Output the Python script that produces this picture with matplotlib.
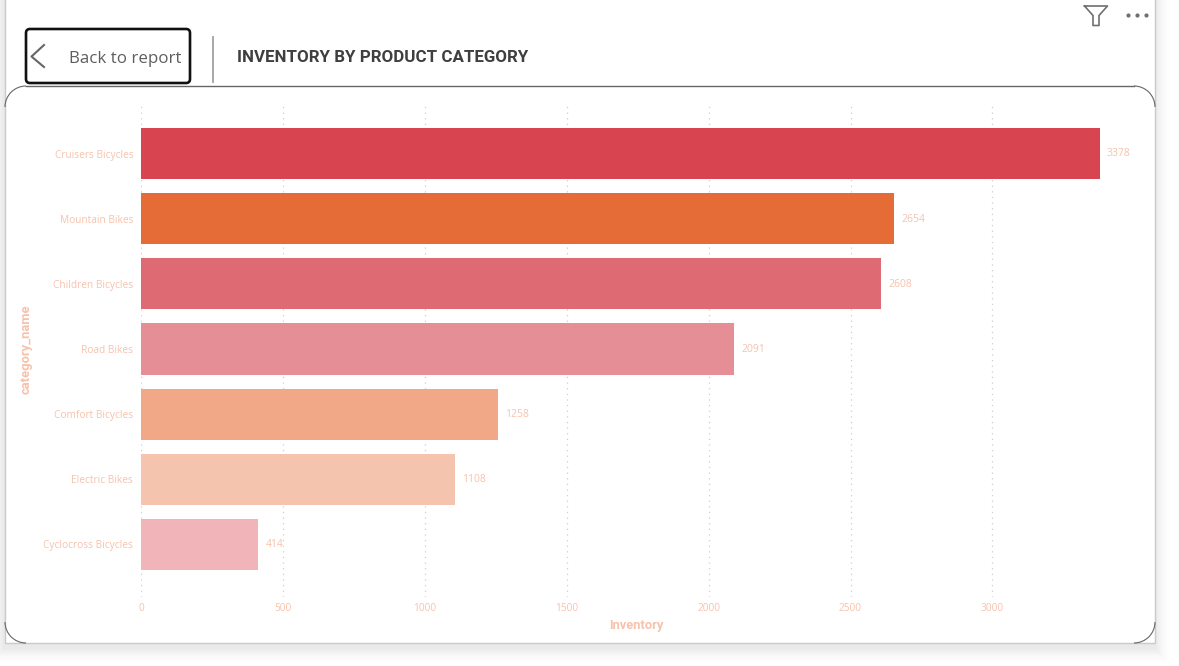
# Inventory by product category, report page recreated
import matplotlib
matplotlib.use("Agg")
import matplotlib.pyplot as plt
from matplotlib.patches import FancyBboxPatch, Arc, Rectangle

W, H = 1179, 666

categories = ["Cruisers Bicycles", "Mountain Bikes", "Children Bicycles", "Road Bikes",
              "Comfort Bicycles", "Electric Bikes", "Cyclocross Bicycles"]
inventory = [3378, 2654, 2608, 2091, 1258, 1108, 414]
bar_colors = ["#D84550", "#E66C37", "#DE6A73", "#E68E96", "#F1A886", "#F4C4AE", "#F0B4B9"]
x_ticks = [0, 500, 1000, 1500, 2000, 2500, 3000]

TEXT_COL = "#F7C2AC"
FONT = "Open Sans"


def px_axes(fig):
    # overlay in pixel coordinates for the page furniture
    ax = fig.add_axes([0, 0, 1, 1], zorder=0)
    ax.set_xlim(0, W)
    ax.set_ylim(H, 0)
    ax.axis("off")
    return ax


def draw_page(bg):
    # soft shadow: nested rectangles from the outside in
    n = 18
    for i in range(n, 0, -1):
        g = 255 - 24 * (1 - i / n) ** 2
        c = (g / 255, g / 255, g / 255)
        bg.add_patch(Rectangle((4 - i, -5), 1151 + 2 * i, 648 + i + 5, fc=c, ec="none", zorder=1))
    bg.add_patch(Rectangle((4.5, -5), 1150.5, 648, fc="white", ec="none", zorder=2))
    bg.plot([4.5, 4.5, 1155, 1155], [0, 643, 643, 0], color="#CACACA", lw=1.0, zorder=3)

    # card outline with rounded corners
    line = "#666666"
    r = 21
    l, t, rt, b = 5, 86, 1155, 643
    bg.plot([l + r, rt - r], [t, t], color=line, lw=1.0, zorder=4)
    for cx, cy, start in [(l + r, t + r, 180), (rt - r, t + r, 270),
                          (l + r, b - r, 90), (rt - r, b - r, 0)]:
        bg.add_patch(Arc((cx, cy), 2 * r, 2 * r, angle=0, theta1=start, theta2=start + 90,
                         color=line, lw=0.8, zorder=4))


def draw_header(bg):
    bg.add_patch(FancyBboxPatch((29, 32), 158, 48, boxstyle="round,pad=3,rounding_size=4",
                                fc="white", ec="#111111", lw=1.9, zorder=5))
    bg.plot([44, 31.5, 44], [45, 56.5, 67], color="#666666", lw=1.5, zorder=6)
    bg.text(69, 58.6, "Back to report", family=FONT, fontsize=12.2, color="#605E5C",
            va="center", ha="left", zorder=6)
    bg.plot([213, 213], [37, 81.5], color="#A0A0A0", lw=1.3, zorder=6)
    bg.text(237, 57, "INVENTORY BY PRODUCT CATEGORY", family="Roboto", weight="bold",
            fontsize=12.2, color="#3F3F3F", va="center", ha="left", zorder=6)

    # filter icon and the three dots
    bg.plot([1084.5, 1107.5, 1099, 1099, 1093, 1093, 1084.5],
            [6, 6, 15.5, 25.5, 25.5, 15.5, 6], color="#707070", lw=1.2, zorder=6)
    bg.scatter([1128, 1137, 1146], [15, 15, 15], s=9, color="#707070", lw=0, zorder=6)


def plot_bars(fig):
    left, right = 141, 1155
    top, bottom = 106, 597
    ax = fig.add_axes([left / W, 1 - bottom / H, (right - left) / W, (bottom - top) / H], zorder=1)
    ax.patch.set_alpha(0)
    ypos = list(range(len(categories)))
    ax.barh(ypos, inventory, height=0.783, color=bar_colors, zorder=2)
    for y, v in zip(ypos, inventory):
        ax.annotate(str(v), (v, y), xytext=(5, -0.3), textcoords="offset points", va="center",
                    ha="left", family=FONT, fontsize=7.5, color=TEXT_COL, zorder=3)

    ax.set_xlim(0, (right - left) / 0.2838)
    ax.set_ylim(6.806, -0.729)
    ax.set_xticks(x_ticks)
    ax.set_yticks(ypos, categories)
    ax.grid(axis="x", linestyle=(0, (1, 3.5)), color="#CFCFCF", lw=0.9, zorder=0)
    ax.set_axisbelow(True)
    ax.tick_params(axis="both", length=0, labelcolor=TEXT_COL, labelsize=7.3)
    ax.tick_params(axis="y", pad=5.5)
    ax.tick_params(axis="x", pad=4.5)
    for lab in ax.get_xticklabels() + ax.get_yticklabels():
        lab.set_family(FONT)
    for s in ax.spines.values():
        s.set_visible(False)
    return ax


def main():
    fig = plt.figure(figsize=(W / 100, H / 100), dpi=100, facecolor="white")
    bg = px_axes(fig)
    draw_page(bg)
    draw_header(bg)
    plot_bars(fig)
    # axis titles sit outside the plotting box
    bg.text(26, 349.5, "category_name", rotation=90, family="Roboto", weight="bold", fontsize=9.4,
            color=TEXT_COL, ha="center", va="center", zorder=6)
    bg.text(636, 625, "Inventory", family="Roboto", weight="bold", fontsize=9.3,
            color=TEXT_COL, ha="center", va="center", zorder=6)
    fig.savefig("out.png", dpi=100)


if __name__ == "__main__":
    main()
